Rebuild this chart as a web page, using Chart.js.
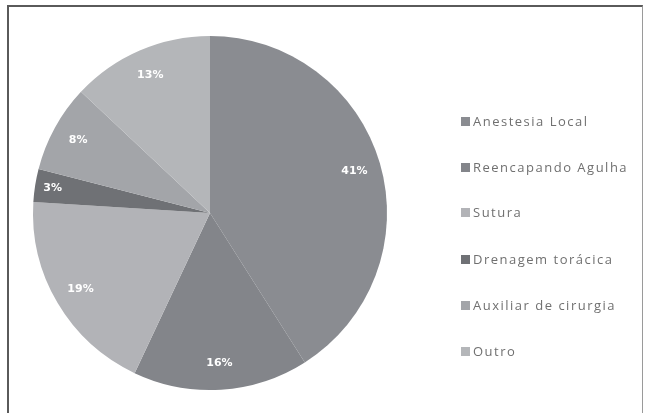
<!DOCTYPE html>
<html>
<head>
<meta charset="utf-8">
<script src="https://cdn.jsdelivr.net/npm/chart.js@4"></script>
<style>
    body { margin: 0; background: #fff; }
    #wrap { position: relative; width: 648px; height: 413px; overflow: hidden; }
    #frame {
        position: absolute; left: 7px; top: 5px; width: 633px; height: 420px;
        border-top: 2px solid #5a5a5a; border-left: 2px solid #5a5a5a; border-right: 1px solid #9a9a9a;
    }
    #chart { position: absolute; left: 0; top: 0; }
    #legend { position: absolute; left: 461px; top: 0; font-family: "Open Sans", sans-serif; font-size: 13px; color: #707070; letter-spacing: 1.5px; }
    .item { position: absolute; left: 0; white-space: nowrap; line-height: 16px; }
    .box { display: inline-block; width: 9px; height: 9px; margin-right: 3px; vertical-align: 0px; }
</style>
</head>
<body>
<div id="wrap">
    <div id="frame"></div>
    <canvas id="chart" width="648" height="413"></canvas>
    <div id="legend"></div>
</div>
<script>
// Pie data (percentages)
const labels = ['Anestesia Local', 'Reencapando Agulha', 'Sutura', 'Drenagem torácica', 'Auxiliar de cirurgia', 'Outro'];
const values = [41, 16, 19, 3, 8, 13];
const colors = ['#8a8c91', '#83858a', '#b2b3b7', '#6f7175', '#a3a5a9', '#b4b6b9'];
const legendTops = [113, 159, 204, 251, 297, 343];

// Percent labels drawn inside each slice
const pctLabels = {
    id: 'pctLabels',
    afterDatasetsDraw(chart) {
        const ctx = chart.ctx;
        const meta = chart.getDatasetMeta(0);
        ctx.save();
        ctx.fillStyle = '#ffffff';
        ctx.font = 'bold 11px "DejaVu Sans", sans-serif';
        ctx.textAlign = 'center';
        ctx.textBaseline = 'middle';
        meta.data.forEach((arc, i) => {
            const mid = (arc.startAngle + arc.endAngle) / 2;
            const r = arc.outerRadius * (values[i] < 5 ? 0.9 : 0.85);
            ctx.fillText(values[i] + '%', arc.x + Math.cos(mid) * r, arc.y + Math.sin(mid) * r);
        });
        ctx.restore();
    }
};

new Chart(document.getElementById('chart'), {
    type: 'pie',
    data: {
        labels: labels,
        datasets: [{
            data: values,
            backgroundColor: colors,
            borderWidth: 0
        }]
    },
    options: {
        responsive: false,
        animation: false,
        layout: { padding: { left: 33, right: 261, top: 36, bottom: 23 } },
        plugins: {
            legend: { display: false },
            tooltip: { enabled: false }
        }
    },
    plugins: [pctLabels]
});

// HTML legend
const legend = document.getElementById('legend');
labels.forEach((name, i) => {
    const div = document.createElement('div');
    div.className = 'item';
    div.style.top = legendTops[i] + 'px';
    div.innerHTML = `<span class="box" style="background:${colors[i]}"></span>${name}`;
    legend.appendChild(div);
});
</script>
</body>
</html>
